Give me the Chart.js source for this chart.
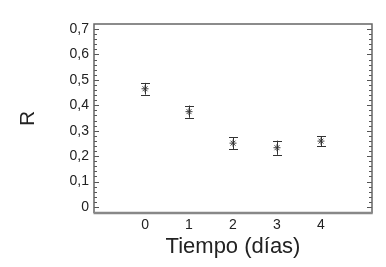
<!DOCTYPE html>
<html><head><meta charset="utf-8">
<script src="https://cdn.jsdelivr.net/npm/chart.js@4/dist/chart.umd.min.js"></script>
<style>html,body{margin:0;padding:0;background:#fff}#c{display:block}</style>
</head><body>
<canvas id="c" width="386" height="267"></canvas>
<script>
const days = [0, 1, 2, 3, 4];
const rValues = [0.465, 0.375, 0.251, 0.233, 0.259];
const rErrors = [0.023, 0.024, 0.024, 0.028, 0.020];
const yTicks = [0, 0.1, 0.2, 0.3, 0.4, 0.5, 0.6, 0.7];
const xTicks = [0, 1, 2, 3, 4];

const FONT = "'Liberation Sans', Arial, sans-serif";

const framePlugin = {
  id: 'frame',
  afterDatasetsDraw(chart) {
    const ctx = chart.ctx, a = chart.chartArea;
    const y = chart.scales.y, x = chart.scales.x;
    ctx.save();
    ctx.strokeStyle = '#333';
    ctx.lineWidth = 1;
    days.forEach((d, i) => {
      const px = Math.round(x.getPixelForValue(d)) + 0.5;
      const y1 = y.getPixelForValue(rValues[i] + rErrors[i]);
      const y2 = y.getPixelForValue(rValues[i] - rErrors[i]);
      ctx.beginPath();
      ctx.moveTo(px, y1); ctx.lineTo(px, y2);
      ctx.moveTo(px - 4.5, Math.round(y1) + 0.5); ctx.lineTo(px + 4.5, Math.round(y1) + 0.5);
      ctx.moveTo(px - 4.5, Math.round(y2) + 0.5); ctx.lineTo(px + 4.5, Math.round(y2) + 0.5);
      ctx.stroke();
    });
    ctx.strokeStyle = '#555';
    ctx.lineWidth = 1;
    ctx.beginPath();
    for (let k = 0; k <= 35; k++) {
      const v = k * 0.02;
      const py = Math.round(y.getPixelForValue(v)) + 0.5;
      const len = (k % 5 === 0) ? 5 : 3;
      ctx.moveTo(a.left, py); ctx.lineTo(a.left + len, py);
      ctx.moveTo(a.right, py); ctx.lineTo(a.right - len, py);
    }
    ctx.stroke();
    ctx.strokeStyle = '#666';
    ctx.lineWidth = 1.5;
    ctx.beginPath();
    ctx.moveTo(a.left, a.bottom); ctx.lineTo(a.left, a.top); ctx.lineTo(a.right, a.top); ctx.lineTo(a.right, a.bottom);
    ctx.stroke();
    ctx.strokeStyle = '#888';
    ctx.lineWidth = 2.5;
    ctx.beginPath();
    ctx.moveTo(a.left - 0.5, a.bottom); ctx.lineTo(a.right + 0.75, a.bottom);
    ctx.stroke();
    ctx.restore();
  }
};

new Chart(document.getElementById('c'), {
  type: 'scatter',
  data: {
    datasets: [{
      data: days.map((d, i) => ({x: d, y: rValues[i]})),
      pointStyle: 'star',
      radius: 3.5,
      borderColor: '#444',
      backgroundColor: '#444',
      borderWidth: 1
    }]
  },
  options: {
    responsive: false,
    animation: false,
    layout: {padding: {top: 24, right: 14, left: 12, bottom: 3}},
    plugins: {legend: {display: false}, tooltip: {enabled: false}},
    scales: {
      x: {
        type: 'linear', min: -1.16, max: 5.16,
        afterBuildTicks: s => { s.ticks = xTicks.map(v => ({value: v})); },
        afterFit: s => { s.height = 51; },
        grid: {display: false, drawTicks: false},
        border: {display: false},
        ticks: {color: '#222', font: {family: FONT, size: 14}, padding: 4, maxRotation: 0,
          callback: v => String(v)},
        title: {display: true, text: 'Tiempo (días)', color: '#222', font: {family: FONT, size: 22}}
      },
      y: {
        min: -0.024, max: 0.72,
        afterBuildTicks: s => { s.ticks = yTicks.map(v => ({value: v})); },
        afterFit: s => { s.width = 82; },
        grid: {display: false, drawTicks: false},
        border: {display: false},
        ticks: {color: '#222', font: {family: FONT, size: 14}, padding: 5,
          callback: v => v === 0 ? '0' : v.toFixed(1).replace('.', ',')},
        title: {display: true, text: 'R', color: '#222', font: {family: FONT, size: 21}}
      }
    }
  },
  plugins: [framePlugin]
});
</script>
</body></html>
